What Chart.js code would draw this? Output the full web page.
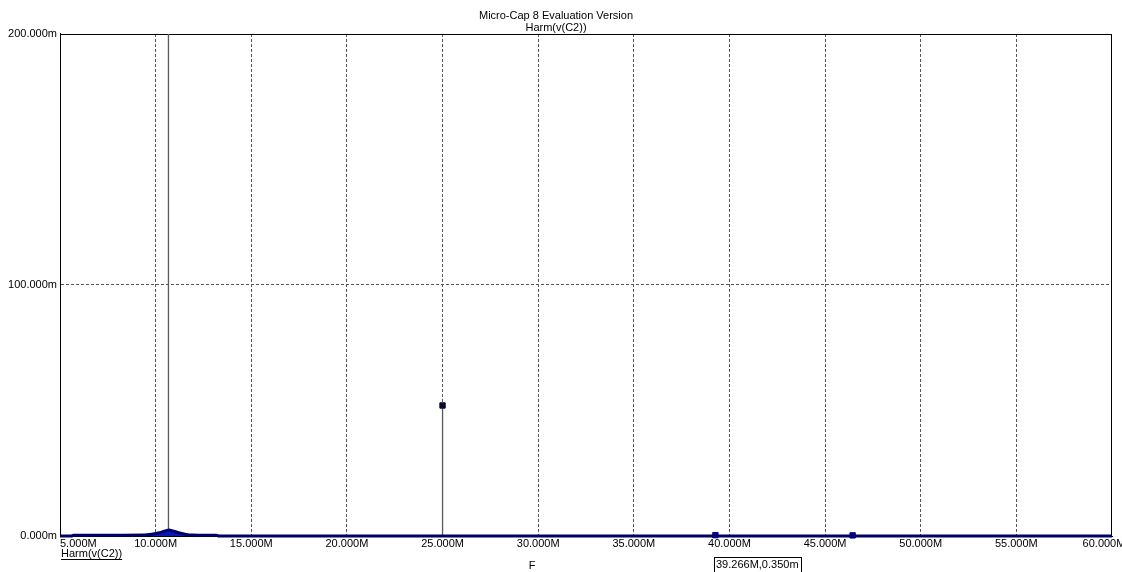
<!DOCTYPE html>
<html>
<head>
<meta charset="utf-8">
<title>Harm(v(C2))</title>
<script src="https://cdn.jsdelivr.net/npm/chart.js@4.4.1/dist/chart.umd.min.js"></script>
<style>
  html, body { margin: 0; padding: 0; background: #fff; }
  canvas { display: block; }
</style>
</head>
<body>
<canvas id="plot" width="1122" height="572"></canvas>
<script>
// Frequency axis (MHz) and magnitude axis (milli-units)
const xTicks = [5, 10, 15, 20, 25, 30, 35, 40, 45, 50, 55, 60];
const yTicks = [0, 100, 200];

// Continuous harmonic envelope of v(C2)
const specFreq = [5.0, 5.6, 5.7, 9.4, 9.8, 10.2, 10.5, 10.7, 10.9, 11.2, 11.6, 11.9, 13.2, 13.3, 60.0];
const specMag  = [0,   0,   0.3, 0.35, 0.7, 1.3, 2.0,  2.4,  2.0,  1.3,  0.6,  0.35, 0.3,  0,    0];

// Discrete harmonic lines (stems); the first one runs off the top of the plot
const stemFreq = [10.67, 25.0, 39.266, 46.44];
const stemMag  = [480,   52.0, 0.350,  0.25];

// Cursor readout sits on the third harmonic line
const cursorIndex = 2;

const titleLines = ['Micro-Cap 8 Evaluation Version', 'Harm(v(C2))'];
const traceName = 'Harm(v(C2))';
const xAxisName = 'F';

const FONT = 'Liberation Sans, Arial, sans-serif';

const spectrum = specFreq.map((f, i) => ({ x: f, y: specMag[i] }));
const stems = [];
stemFreq.forEach((f, i) => {
  stems.push({ x: f, y: 0, tip: false });
  stems.push({ x: f, y: stemMag[i], tip: stemMag[i] <= 200, idx: i });
  stems.push({ x: f, y: NaN, tip: false });
});
const tipColors = ['#0a0a2a', '#0a0a2a', '#00008a', '#00008a'];

// Closed frame around the plotting area
const framePlugin = {
  id: 'frame',
  beforeDatasetsDraw(chart) {
    const { ctx, chartArea: a } = chart;
    ctx.save();
    ctx.strokeStyle = '#000';
    ctx.lineWidth = 1;
    ctx.strokeRect(Math.round(a.left) + 0.5, Math.round(a.top) + 0.5,
                   Math.round(a.right - a.left) - 1, Math.round(a.bottom - a.top));
    ctx.restore();
  }
};

// First frequency label hugs the left edge, last one is pulled slightly inward
const edgeLabels = {
  id: 'edgeLabels',
  beforeDraw(chart) {
    const items = chart.scales.x.getLabelItems();
    if (!items.length) return;
    items[0].options.textAlign = 'left';
    items[items.length - 1].options.translation[0] -= 8;
  }
};

// Trace name, axis name and cursor readout under the frequency axis
const footer = {
  id: 'footer',
  afterDraw(chart) {
    const { ctx, chartArea: a } = chart;
    ctx.save();
    ctx.font = '11px ' + FONT;
    ctx.fillStyle = '#000';
    ctx.textBaseline = 'middle';

    ctx.textAlign = 'left';
    const tx = a.left + 1, ty = 554;
    ctx.fillText(traceName, tx, ty);
    const w = ctx.measureText(traceName).width;
    ctx.fillRect(tx, ty + 5, w, 1);

    ctx.textAlign = 'center';
    ctx.fillText(xAxisName, 532, 566);

    const cx = chart.scales.x.getPixelForValue(stemFreq[cursorIndex]);
    const label = stemFreq[cursorIndex].toFixed(3) + 'M,' + stemMag[cursorIndex].toFixed(3) + 'm';
    ctx.textAlign = 'left';
    const lw = ctx.measureText(label).width;
    const bx = Math.round(cx) - 1;
    ctx.fillText(label, bx + 2, 565);
    ctx.strokeStyle = '#000';
    ctx.lineWidth = 1;
    ctx.strokeRect(bx + 0.5, 557.5, Math.round(lw) + 4, 20);
    ctx.restore();
  }
};

new Chart(document.getElementById('plot'), {
  type: 'line',
  data: {
    datasets: [
      {
        label: traceName,
        data: spectrum,
        borderColor: '#00006a',
        backgroundColor: '#0818b8',
        borderWidth: 3,
        fill: 'origin',
        pointRadius: 0,
        tension: 0.3,
        clip: { left: 2, right: 2, top: 0, bottom: 4 }
      },
      {
        label: 'harmonics',
        data: stems,
        borderColor: '#5a5a5a',
        borderWidth: 1.3,
        spanGaps: false,
        fill: false,
        pointStyle: 'rect',
        pointRadius: c => (c.raw && c.raw.tip ? 3.8 : 0),
        pointBackgroundColor: c => (c.raw && c.raw.tip ? tipColors[c.raw.idx] : 'transparent'),
        pointBorderColor: c => (c.raw && c.raw.tip ? tipColors[c.raw.idx] : 'transparent'),
        pointBorderWidth: 1,
        clip: { left: 2, right: 2, top: 0, bottom: 4 }
      }
    ]
  },
  options: {
    responsive: false,
    animation: false,
    events: [],
    layout: { padding: { top: 0, right: 10, bottom: 0, left: 0 } },
    plugins: {
      legend: { display: false },
      tooltip: { enabled: false },
      title: {
        display: true,
        text: titleLines,
        color: '#000',
        font: { family: FONT, size: 11, weight: 'normal', lineHeight: 1.09 },
        padding: { top: 10, bottom: 0 }
      }
    },
    scales: {
      x: {
        type: 'linear',
        min: xTicks[0],
        max: xTicks[xTicks.length - 1],
        afterBuildTicks: s => { s.ticks = xTicks.map(v => ({ value: v })); },
        afterFit: s => { s.height = 36; s.paddingLeft = 0; s.paddingRight = 0; },
        ticks: {
          color: '#000',
          font: { family: FONT, size: 11 },
          padding: 1,
          maxRotation: 0,
          autoSkip: false,
          callback: v => Number(v).toFixed(3) + 'M'
        },
        grid: {
          drawTicks: false,
          lineWidth: 1,
          color: c => (c.tick && (c.tick.value === xTicks[0] || c.tick.value === xTicks[xTicks.length - 1]) ? 'rgba(0,0,0,0)' : '#555')
        },
        border: { display: true, color: '#000', width: 1, dash: [3, 2] }
      },
      y: {
        type: 'linear',
        min: yTicks[0],
        max: yTicks[yTicks.length - 1],
        afterBuildTicks: s => { s.ticks = yTicks.map(v => ({ value: v })); },
        afterFit: s => { s.width = 60; s.paddingTop = 0; s.paddingBottom = 0; },
        ticks: {
          color: '#000',
          font: { family: FONT, size: 11 },
          padding: 3,
          callback: v => Number(v).toFixed(3) + 'm'
        },
        grid: {
          drawTicks: false,
          lineWidth: 1,
          color: c => (c.tick && (c.tick.value === yTicks[0] || c.tick.value === yTicks[yTicks.length - 1]) ? 'rgba(0,0,0,0)' : '#555')
        },
        border: { display: true, color: '#000', width: 1, dash: [3, 2] }
      }
    }
  },
  plugins: [framePlugin, edgeLabels, footer]
});
</script>
</body>
</html>
